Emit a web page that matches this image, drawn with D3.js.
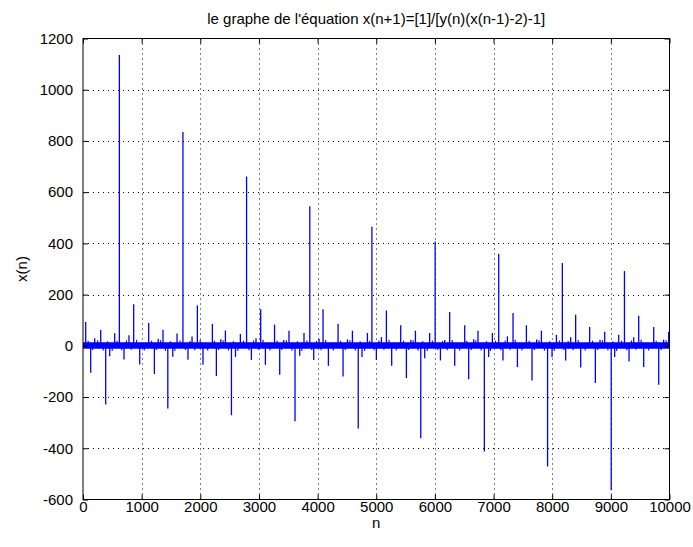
<!DOCTYPE html>
<html><head><meta charset="utf-8">
<script src="https://cdn.jsdelivr.net/npm/d3@7"></script>
<style>
html,body{margin:0;padding:0;background:#fff;}
svg text{font-family:"Liberation Sans",Arial,sans-serif;fill:#000;}
</style></head>
<body>
<svg id="c" width="693" height="547"></svg>
<script>
// ---- data ----
const title = "le graphe de l'équation x(n+1)=[1]/[y(n)(x(n-1)-2)-1]";
const xLabel = "n";
const yLabel = "x(n)";
const xTicks = [0,1000,2000,3000,4000,5000,6000,7000,8000,9000,10000];
const yTicks = [-600,-400,-200,0,200,400,600,800,1000,1200];

// large spikes
const bigN = [387,620,1446,1704,2531,2789,3615,3867,4693,4926,5759,6004,6843,7088,7921,8173,9006,9232];
const bigV = [-229,1136,-245,835,-271,661,-294,545,-323,465,-361,407,-413,360,-471,323,-564,292];

// medium spikes
const midN = [46,131,199,302,455,540,699,784,864,967,1120,1217,1283,1364,1530,1603,1790,1859,1950,2046,2206,2274,2350,2428,2600,2683,2871,2950,3030,3110,3266,3354,3422,3512,3695,3768,3934,4025,4093,4184,4349,4434,4510,4594,4757,4849,5002,5088,5173,5263,5417,5514,5590,5668,5826,5911,6094,6167,6252,6338,6508,6576,6662,6735,6917,6980,7161,7236,7332,7407,7560,7656,7735,7816,7997,8072,8230,8315,8400,8486,8639,8736,8815,8895,9065,9134,9310,9390,9475,9560,9731,9816,9900,9986];
const midV = [93,-105,30,62,-41,49,-53,41,162,-73,89,-110,28,63,-43,48,-54,36,158,-74,86,-118,26,60,-43,46,-55,30,143,-74,83,-113,23,59,-39,50,-55,28,143,-78,86,-120,25,59,-44,50,-55,34,138,-78,80,-126,24,59,-48,50,-57,23,132,-78,80,-130,26,59,-44,50,-57,37,128,-83,80,-135,25,59,-44,43,-57,34,121,-85,74,-145,24,55,-44,43,-61,34,117,-83,74,-152,24,55];

// small spikes poking out of the band
const smallN = [88,165,250,345,420,497,580,660,741,824,915,1045,1170,1250,1323,1405,1488,1566,1654,1747,1825,1905,1998,2126,2240,2312,2389,2480,2565,2641,2736,2830,2910,2990,3070,3188,3310,3388,3467,3563,3655,3731,3817,3900,3980,4059,4138,4266,4391,4472,4552,4643,4725,4803,4887,4964,5045,5130,5218,5340,5465,5552,5629,5713,5792,5868,5957,6049,6130,6210,6295,6423,6542,6619,6698,6789,6880,6948,7034,7124,7198,7284,7369,7483,7608,7695,7775,7868,7959,8034,8122,8201,8272,8357,8443,8562,8687,8775,8855,8950,9035,9100,9183,9271,9350,9432,9517,9645,9773,9858,9943];
const smallV = [20,-16,22,-18,18,-20,20,-17,21,-15,24,-18,20,-16,22,-19,18,-20,21,-16,19,-17,23,-18,20,-16,22,-18,18,-20,20,-17,21,-15,24,-18,20,-16,22,-19,18,-20,21,-16,19,-17,23,-18,20,-16,22,-18,18,-20,20,-17,21,-15,24,-18,20,-16,22,-19,18,-20,21,-16,19,-17,23,-18,20,-16,22,-18,18,-20,20,-17,21,-15,24,-18,20,-16,22,-19,18,-20,21,-16,19,-17,23,-18,20,-16,22,-18,18,-20,20,-17,21,-15,24,-18,20,-16,22];

// dense oscillation band around zero (envelope)
const bandN = [0,10000];
const bandLo = [-11,-11];
const bandHi = [14,14];

// ---- drawing ----
const svg = d3.select("#c");
const L=83, R=669.5, T=38.5, B=499.5;
const x = d3.scaleLinear().domain([0,10000]).range([L,R]);
const y = d3.scaleLinear().domain([-600,1200]).range([B,T]);
const blue = "#0000ff";
const FONT = '"Liberation Sans",Arial,sans-serif';

svg.append("rect").attr("x",0).attr("y",0).attr("width",693).attr("height",547).attr("fill","#fff");

// grid
const grid = svg.append("g").attr("stroke","#000").attr("stroke-width",1).attr("stroke-dasharray","1,4");
grid.selectAll("line.gx").data(xTicks.slice(1,-1)).join("line")
  .attr("x1",d=>Math.round(x(d))+0.5).attr("x2",d=>Math.round(x(d))+0.5).attr("y1",T).attr("y2",B);
grid.selectAll("line.gy").data(yTicks.slice(1,-1)).join("line")
  .attr("y1",d=>Math.round(y(d))+0.5).attr("y2",d=>Math.round(y(d))+0.5).attr("x1",L).attr("x2",R);

const plot = svg.append("g");
// band
const bandData = bandN.map((n,i)=>({n, lo:bandLo[i], hi:bandHi[i]}));
plot.append("path").datum(bandData)
  .attr("d", d3.area().x(d=>x(d.n)).y0(d=>y(d.lo)).y1(d=>y(d.hi)))
  .attr("fill",blue);

function spikes(ns, vs, w){
  plot.append("g").selectAll("line").data(ns.map((n,i)=>({n,v:vs[i]}))).join("line")
    .attr("x1",d=>x(d.n)).attr("x2",d=>x(d.n))
    .attr("y1",y(0)).attr("y2",d=>y(d.v))
    .attr("stroke",blue).attr("stroke-width",w);
}
spikes(smallN, smallV, 1.1);
spikes(midN, midV, 1.3);
spikes(bigN, bigV, 1.3);

// axes
const fmt = d => String(d);
const xAxisB = d3.axisBottom(x).tickValues(xTicks).tickSize(-5).tickPadding(2).tickFormat(fmt);
const xAxisT = d3.axisTop(x).tickValues(xTicks).tickSize(-5).tickFormat("");
const yAxisL = d3.axisLeft(y).tickValues(yTicks).tickSize(-5).tickPadding(10).tickFormat(fmt);
const yAxisR = d3.axisRight(y).tickValues(yTicks).tickSize(-5).tickFormat("");
function style(g){
  g.select(".domain").remove();
  g.selectAll(".tick line").attr("stroke","#000");
  g.selectAll(".tick text").attr("font-size",15).attr("fill","#000").attr("font-family",FONT);
}
svg.append("g").attr("transform",`translate(0,${B})`).call(xAxisB).call(style);
svg.append("g").attr("transform",`translate(0,${T})`).call(xAxisT).call(style);
svg.append("g").attr("transform",`translate(${L},0)`).call(yAxisL).call(style);
svg.append("g").attr("transform",`translate(${R},0)`).call(yAxisR).call(style);

svg.append("rect").attr("x",L).attr("y",T).attr("width",R-L).attr("height",B-T)
  .attr("fill","none").attr("stroke","#000").attr("stroke-width",1);

svg.append("text").attr("x",(L+R)/2).attr("y",24).attr("text-anchor","middle").attr("font-size",15).attr("font-family",FONT).text(title);
svg.append("text").attr("x",(L+R)/2).attr("y",528).attr("text-anchor","middle").attr("font-size",15).attr("font-family",FONT).text(xLabel);
svg.append("text").attr("transform",`translate(27,${(T+B)/2}) rotate(-90)`).attr("text-anchor","middle").attr("font-size",15).attr("font-family",FONT).text(yLabel);
</script>
</body></html>
